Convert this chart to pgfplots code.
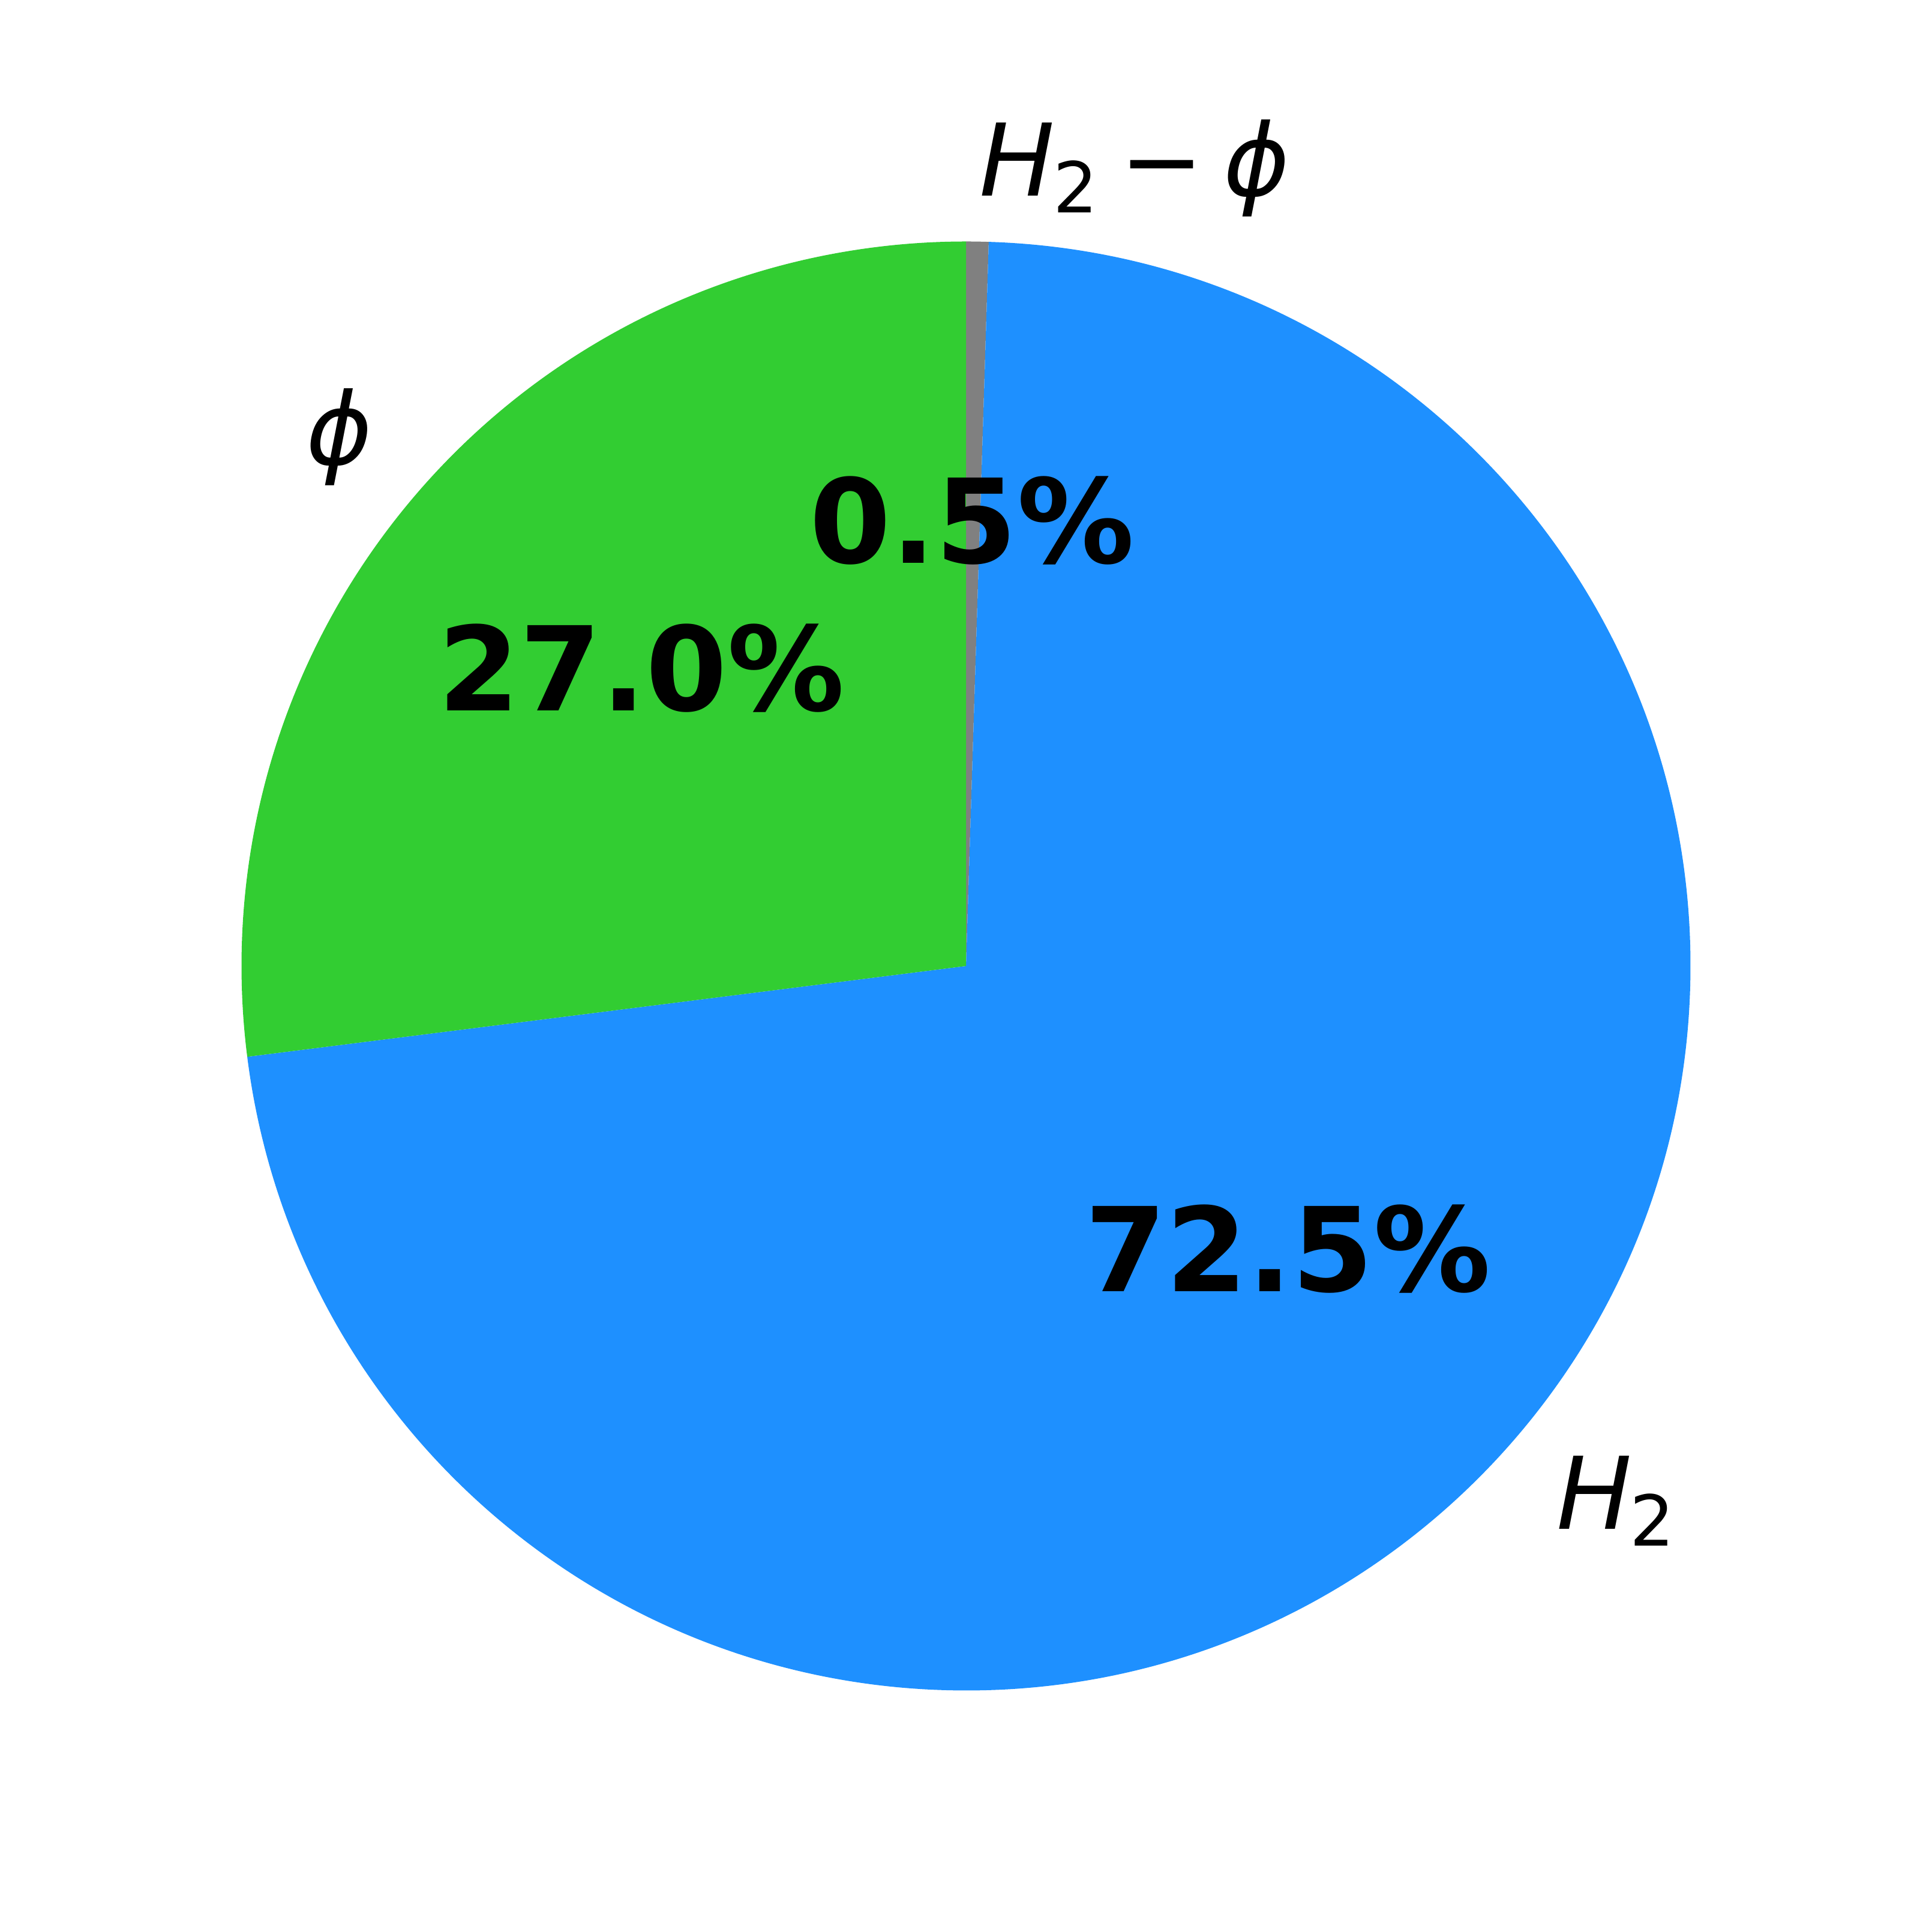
\documentclass[border=0pt]{standalone}
\usepackage{pgfplots}
\pgfplotsset{compat=1.18}
\usepackage{fontspec}
\setmainfont{DejaVu Sans}
\definecolor{cgray}{HTML}{808080}
\definecolor{cblue}{HTML}{1E90FF}
\definecolor{cgreen}{HTML}{32CD32}
% shares (percent), drawn clockwise from 90 degrees
\def\valA{0.5}  % H2 - phi
\def\valB{72.5} % H2
\def\valC{27.0} % phi
\pgfmathsetmacro\aA{90}
\pgfmathsetmacro\aB{\aA-3.6*\valA}
\pgfmathsetmacro\aC{\aB-3.6*\valB}
\pgfmathsetmacro\aD{\aC-3.6*\valC}
\newcommand\lab{\fontsize{30}{36}\selectfont}
\newcommand\pct{\fontsize{35}{42}\selectfont\bfseries}
\newcommand\Hsub{{\itshape H}\kern-0.5pt\raisebox{-5pt}{\fontsize{21}{21}\selectfont 2}}
\begin{document}
\begin{tikzpicture}
\begin{axis}[scale only axis, width=8in, height=8in,
  xmin=-1.33333, xmax=1.33333, ymin=-1.33333, ymax=1.33333,
  hide axis, clip=false]
\path (axis cs:-1.33333,-1.33333) rectangle (axis cs:1.33333,1.33333);
\fill[cgray] (axis cs:0,0) -- ++(\aA:3in) arc[start angle=\aA, end angle=\aB, radius=3in] -- cycle;
\fill[cblue] (axis cs:0,0) -- ++(\aB:3in) arc[start angle=\aB, end angle=\aC, radius=3in] -- cycle;
\fill[cgreen] (axis cs:0,0) -- ++(\aC:3in) arc[start angle=\aC, end angle=\aD, radius=3in] -- cycle;
\node[anchor=base west, inner sep=0pt] at (axis cs:0.018,1.063) {\lab\Hsub\hspace{6.5pt}−\hspace{6pt}{\itshape ϕ}};
\node[anchor=base west, inner sep=0pt] at (axis cs:0.814,-0.777) {\lab\Hsub};
\node[anchor=base east, inner sep=0pt] at (axis cs:-0.818,0.692) {\lab\itshape ϕ};
\node[anchor=base, inner sep=0pt] at (axis cs:0.0085,0.556) {\pct 0.5\%};
\node[anchor=base, inner sep=0pt] at (axis cs:-0.448,0.352) {\pct 27.0\%};
\node[anchor=base, inner sep=0pt] at (axis cs:0.444,-0.449) {\pct 72.5\%};
\end{axis}
\end{tikzpicture}
\end{document}
